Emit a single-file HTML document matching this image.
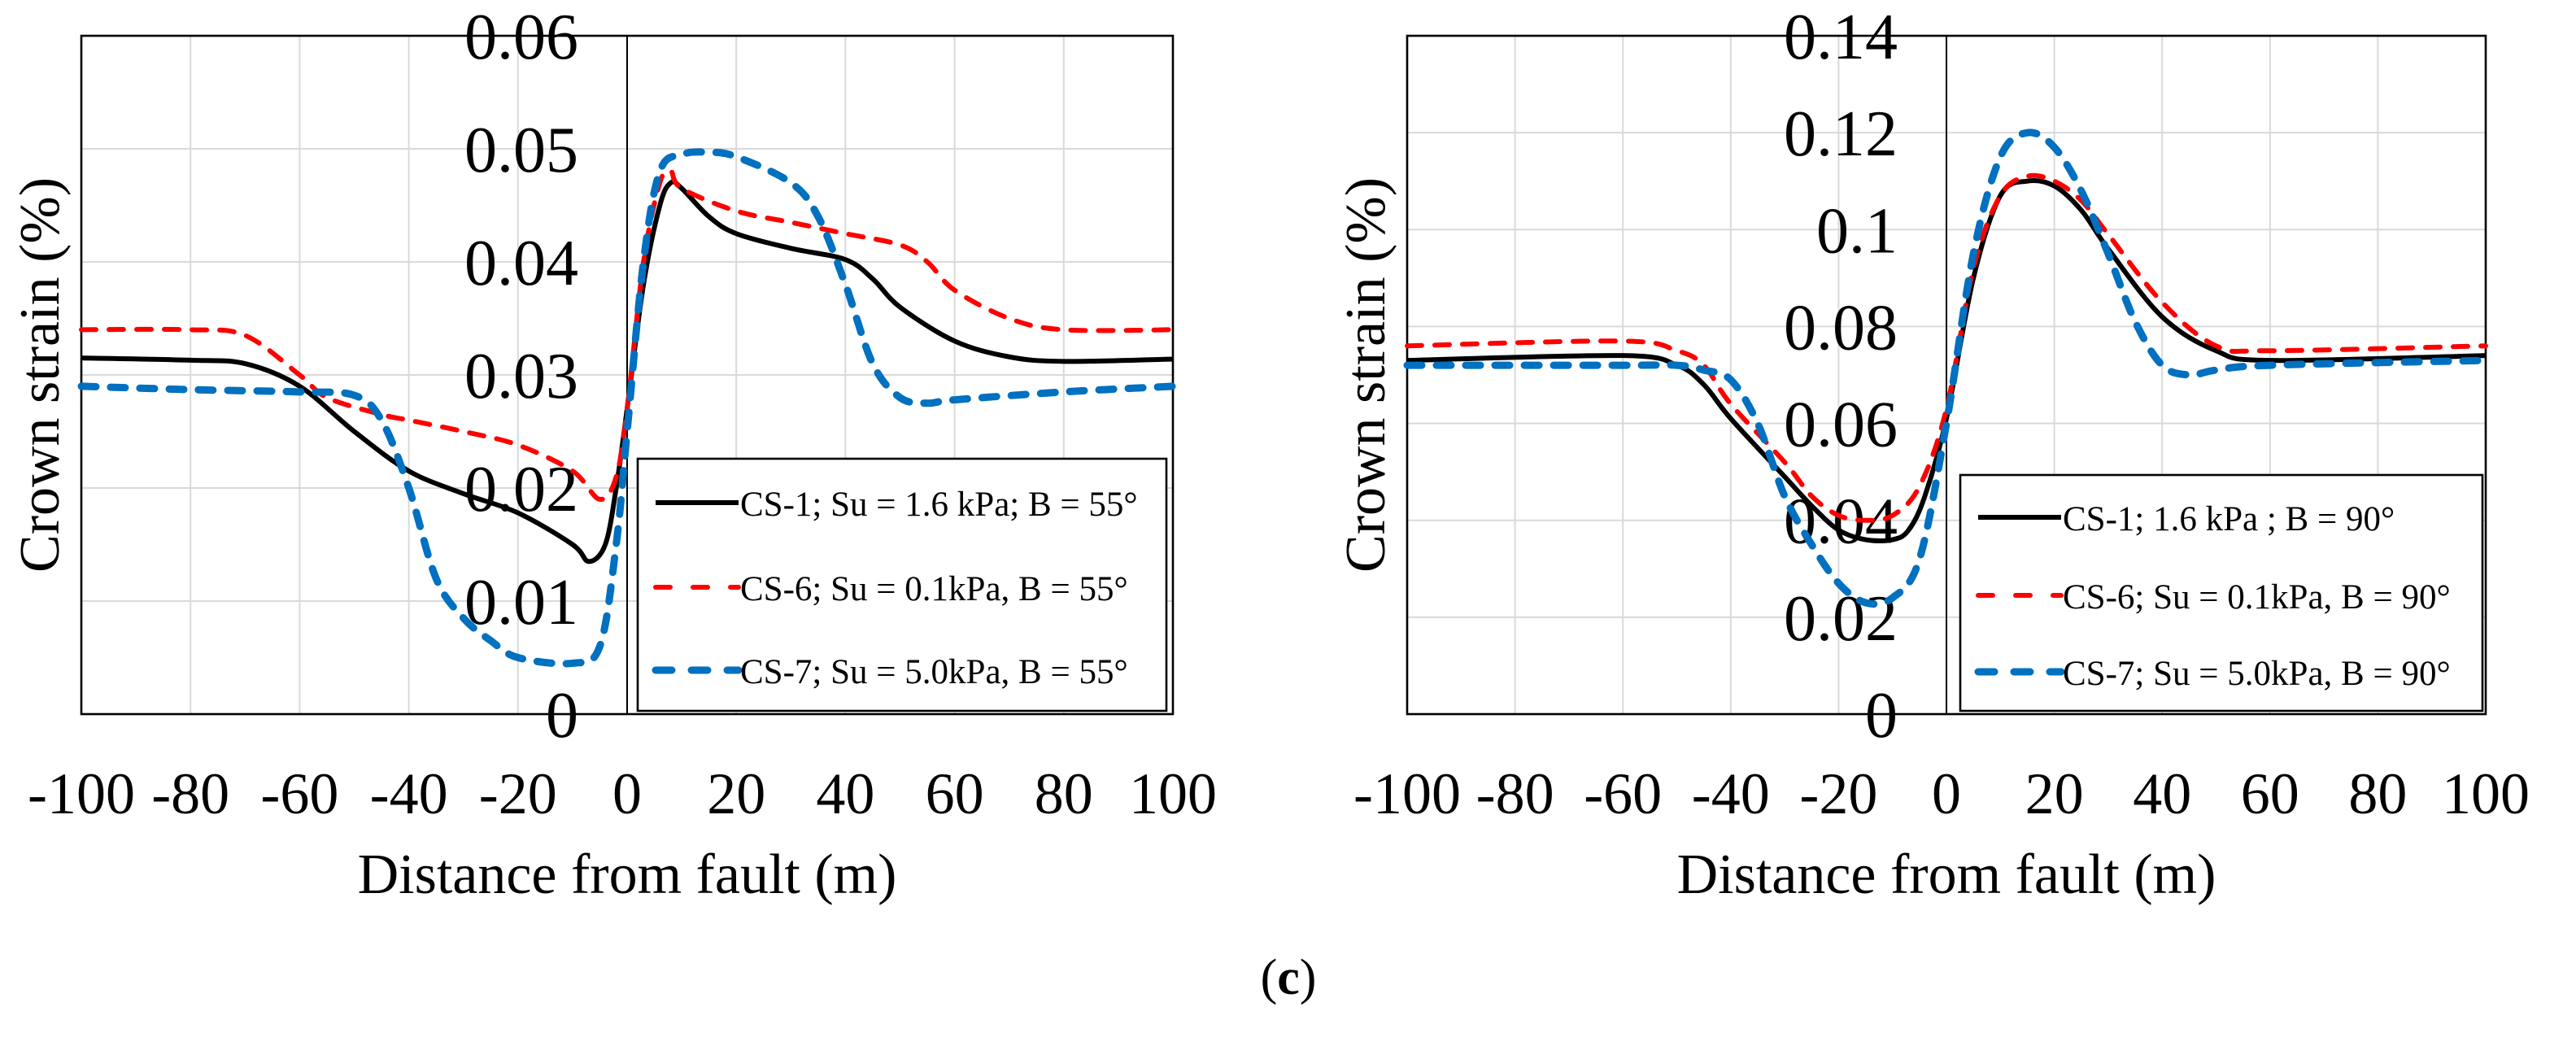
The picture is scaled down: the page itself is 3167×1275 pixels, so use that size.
<!DOCTYPE html>
<html><head><meta charset="utf-8"><style>
html,body{margin:0;padding:0;background:#fff;}
svg{display:block;}
text{font-family:"Liberation Serif",serif;fill:#000;}
</style></head><body>
<svg id="fig" width="3167" height="1275" viewBox="0 0 1583.5 637.5" xmlns="http://www.w3.org/2000/svg">
<text x="792" y="611" font-size="31" text-anchor="middle">(<tspan font-weight="bold">c</tspan>)</text>
</svg>
<script>
// ---- data: left chart (B = 55°)
const xTicks = [-100,-80,-60,-40,-20,0,20,40,60,80,100];
const leftYTicks = [0,0.01,0.02,0.03,0.04,0.05,0.06];
const leftYLabels = ["0","0.01","0.02","0.03","0.04","0.05","0.06"];
const leftCS1X = [-100,-80,-70,-60,-50,-40,-30,-20,-10,-7,-4,-2,0,3,6,8,10,15,20,30,40,45,50,60,70,80,100];
const leftCS1Y = [0.0315,0.0313,0.031,0.029,0.025,0.0215,0.0195,0.0178,0.015,0.0135,0.015,0.02,0.027,0.038,0.045,0.047,0.0465,0.044,0.0425,0.0412,0.0402,0.0385,0.036,0.033,0.0316,0.0312,0.0314];
const leftCS6X = [-100,-80,-70,-60,-55,-45,-40,-30,-20,-10,-5,-2,0,3,6,8,10,20,30,40,50,55,60,70,80,100];
const leftCS6Y = [0.034,0.034,0.0335,0.030,0.028,0.0265,0.026,0.025,0.0238,0.0215,0.019,0.021,0.027,0.040,0.047,0.048,0.0465,0.0445,0.0435,0.0425,0.0415,0.040,0.0375,0.035,0.034,0.034];
const leftCS7X = [-100,-80,-60,-50,-45,-40,-35,-30,-25,-20,-10,-5,-2,0,3,6,10,15,20,30,35,40,45,50,55,60,80,100];
const leftCS7Y = [0.029,0.0287,0.0285,0.0282,0.026,0.020,0.012,0.0085,0.0065,0.005,0.0045,0.006,0.015,0.025,0.040,0.048,0.0495,0.0497,0.0493,0.047,0.044,0.038,0.031,0.028,0.0275,0.0278,0.0285,0.029];
// ---- data: right chart (B = 90°)
const rightYTicks = [0,0.02,0.04,0.06,0.08,0.10,0.12,0.14];
const rightYLabels = ["0","0.02","0.04","0.06","0.08","0.1","0.12","0.14"];
const rightCS1X = [-100,-60,-50,-45,-40,-30,-25,-20,-15,-10,-7,-4,0,5,10,15,20,25,30,40,50,60,100];
const rightCS1Y = [0.073,0.074,0.072,0.068,0.061,0.049,0.043,0.038,0.036,0.036,0.038,0.045,0.061,0.090,0.107,0.110,0.109,0.104,0.096,0.082,0.075,0.073,0.074];
const rightCS6X = [-100,-60,-50,-45,-40,-30,-25,-20,-15,-10,-5,0,5,10,15,20,25,30,40,50,60,100];
const rightCS6Y = [0.076,0.077,0.075,0.072,0.064,0.052,0.045,0.041,0.040,0.041,0.047,0.063,0.092,0.107,0.111,0.110,0.106,0.099,0.085,0.076,0.075,0.076];
const rightCS7X = [-100,-60,-50,-45,-40,-35,-30,-25,-20,-15,-10,-5,0,5,10,15,20,25,30,35,40,45,50,60,100];
const rightCS7Y = [0.072,0.072,0.072,0.071,0.069,0.060,0.045,0.035,0.027,0.023,0.024,0.032,0.060,0.095,0.115,0.120,0.117,0.108,0.095,0.081,0.072,0.070,0.071,0.072,0.073];
const leftLegend = ["CS-1; Su = 1.6 kPa; B = 55°","CS-6; Su = 0.1kPa, B = 55°","CS-7; Su = 5.0kPa, B = 55°"];
const rightLegend = ["CS-1; 1.6 kPa ; B = 90°","CS-6; Su = 0.1kPa, B = 90°","CS-7; Su = 5.0kPa, B = 90°"];

const NS="http://www.w3.org/2000/svg";
const svg=document.getElementById('fig');
function mk(tag,attrs,parent){const e=document.createElementNS(NS,tag);for(const k in attrs)e.setAttribute(k,attrs[k]);(parent||svg).appendChild(e);return e;}
const styles=[
 {stroke:'#000',w:3,dash:null,cap:'butt'},
 {stroke:'#ff0000',w:3,dash:'9 8',cap:'round'},
 {stroke:'#0070c0',w:4.5,dash:'9 9',cap:'round'}];
function smoothPath(pts){
  let d='M'+pts[0][0]+','+pts[0][1];
  for(let i=0;i<pts.length-1;i++){
    const p0=pts[i-1]||pts[i],p1=pts[i],p2=pts[i+1],p3=pts[i+2]||p2;
    const c1x=p1[0]+(p2[0]-p0[0])/6,c1y=p1[1]+(p2[1]-p0[1])/6;
    const c2x=p2[0]-(p3[0]-p1[0])/6,c2y=p2[1]-(p3[1]-p1[1])/6;
    d+=' C'+c1x+','+c1y+' '+c2x+','+c2y+' '+p2[0]+','+p2[1];
  }
  return d;
}
function chart(o){
  const g=mk('g',{});
  
  
  const X=v=>o.x0+(v+100)/200*(o.x1-o.x0);
  const ymax=o.yTicks[o.yTicks.length-1];
  const Y=v=>o.y1-v/ymax*(o.y1-o.y0);
  xTicks.forEach(t=>{if(t===-100||t===100||t===0)return;
    const l=mk('line',{x1:X(t),x2:X(t),y1:o.y0,y2:o.y1,stroke:'#d9d9d9','stroke-width':1},g);
    
    });
  o.yTicks.forEach(t=>{if(t===0||t===ymax)return;
    const l=mk('line',{x1:o.x0,x2:o.x1,y1:Y(t),y2:Y(t),stroke:'#d9d9d9','stroke-width':1},g);
    
    });
  const fr=mk('rect',{x:o.x0,y:o.y0,width:o.x1-o.x0,height:o.y1-o.y0,fill:'none',stroke:'#000','stroke-width':1.3},g);
  
  
  const ax=mk('line',{x1:X(0),x2:X(0),y1:o.y0,y2:o.y1,stroke:'#000','stroke-width':1},g);
  
  
  o.yTicks.forEach((t,i)=>{const tx=mk('text',{x:X(0)-30,y:Y(t)+14,'font-size':40,'text-anchor':'end'},g);tx.textContent=o.yLabels[i];
    
    });
  xTicks.forEach(t=>{const tx=mk('text',{x:X(t),y:o.y1+61,'font-size':36,'text-anchor':'middle'},g);tx.textContent=String(t);
    
    });
  const xt=mk('text',{x:(o.x0+o.x1)/2,y:o.y1+110,'font-size':35,'text-anchor':'middle'},g);xt.textContent='Distance from fault (m)';
  
  
  const yt=mk('text',{x:0,y:0,'font-size':35,'text-anchor':'middle',transform:'translate('+(o.x0-14)+','+((o.y0+o.y1)/2)+') rotate(-90)'},g);yt.textContent='Crown strain (%)';
  
  
  o.series.forEach((s,i)=>{const st=styles[i];
    const pts=s[0].map((x,j)=>[X(x),Y(s[1][j])]);
    const p=mk('path',{d:smoothPath(pts),fill:'none',stroke:st.stroke,'stroke-width':st.w,'stroke-linecap':st.cap,'stroke-linejoin':'round'},g);
    if(st.dash)p.setAttribute('stroke-dasharray',st.dash);
    
    });
  const L=o.legend;
  const lb=mk('rect',{x:L.x,y:L.y,width:L.w,height:L.h,fill:'#fff',stroke:'#000','stroke-width':1.3},g);
  
  
  o.legendText.forEach((t,i)=>{const st=styles[i];const yy=L.rows[i];
    const ln=mk('line',{x1:L.x+11,x2:L.x+62,y1:yy,y2:yy,stroke:st.stroke,'stroke-width':st.w,'stroke-linecap':st.cap},g);
    if(st.dash)ln.setAttribute('stroke-dasharray',i===1?'9 14':'10 12');
    
    
    const tx=mk('text',{x:L.x+63,y:yy+8,'font-size':21.5},g);tx.textContent=t;
    
    });
}
chart({name:'left-chart',x0:50,x1:721,y0:22,y1:439,yTicks:leftYTicks,yLabels:leftYLabels,
  series:[[leftCS1X,leftCS1Y],[leftCS6X,leftCS6Y],[leftCS7X,leftCS7Y]],
  legend:{x:392,y:282,w:325,h:155,rows:[309,361,412]},legendText:leftLegend});
chart({name:'right-chart',x0:865,x1:1528,y0:22,y1:439,yTicks:rightYTicks,yLabels:rightYLabels,
  series:[[rightCS1X,rightCS1Y],[rightCS6X,rightCS6Y],[rightCS7X,rightCS7Y]],
  legend:{x:1205,y:292,w:321,h:145,rows:[318,366,413]},legendText:rightLegend});
</script>
</body></html>
